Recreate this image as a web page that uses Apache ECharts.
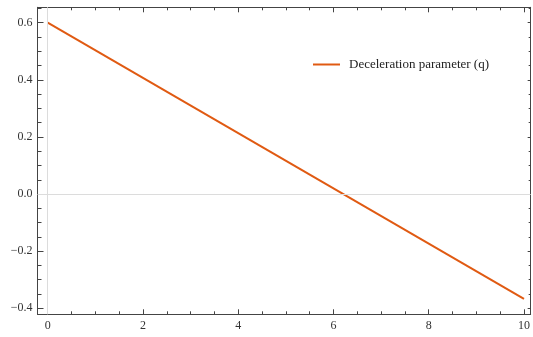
<!DOCTYPE html>
<html>
<head>
<meta charset="utf-8">
<script src="https://cdn.jsdelivr.net/npm/echarts@6/dist/echarts.min.js"></script>
<style>
html, body { margin: 0; padding: 0; background: #fff; }
#main { width: 533px; height: 337px; }
</style>
</head>
<body>
<div id="main"></div>
<script>
// 数据
var seriesName = 'Deceleration parameter (q)';
var tValues = [0, 10];
var qValues = [0.6, -0.367];

var xMajor = [0, 2, 4, 6, 8, 10];
var xMinor = [0.5, 1, 1.5, 2.5, 3, 3.5, 4.5, 5, 5.5, 6.5, 7, 7.5, 8.5, 9, 9.5];
var yMajor = [-0.4, -0.2, 0, 0.2, 0.4, 0.6];
var yMinor = [-0.35, -0.3, -0.25, -0.15, -0.1, -0.05, 0.05, 0.1, 0.15, 0.25, 0.3, 0.35, 0.45, 0.5, 0.55, 0.65];

var xMin = -0.214, xMax = 10.14;
var yMin = -0.421, yMax = 0.654;

var frameColor = '#444';
var labelFont = 'Liberation Serif';

function fmtY(v) {
	var s = Math.abs(v).toFixed(1);
	return v < -1e-9 ? '\u2212' + s : s;
}

// 一个轴的模板
function axis(dim, pos, ticks, len, showLabel, lineShow) {
	var a = {
		type: 'value',
		position: pos,
		min: dim === 'x' ? xMin : yMin,
		max: dim === 'x' ? xMax : yMax,
		axisLine: { show: lineShow, onZero: false, lineStyle: { color: frameColor, width: 1 } },
		axisTick: {
			show: true,
			inside: true,
			length: len,
			customValues: ticks,
			lineStyle: { color: frameColor, width: 1 }
		},
		axisLabel: { show: false },
		splitLine: { show: false }
	};
	if (showLabel) {
		a.axisLabel = {
			show: true,
			customValues: ticks,
			color: '#333',
			fontFamily: labelFont,
			fontSize: 12,
			margin: dim === 'x' ? 6 : 5,
			formatter: dim === 'x' ? function(v) { return String(Math.round(v)); } : fmtY
		};
	}
	return a;
}

var chartDom = document.getElementById('main');
var myChart = echarts.init(chartDom);

var option = {
	animation: false,
	grid: { left: 37.5, right: 1.5, top: 7.3, bottom: 22.7, containLabel: false },
	legend: {
		data: [seriesName],
		left: 313,
		top: 58,
		padding: 0,
		icon: 'rect',
		itemWidth: 27,
		itemHeight: 2,
		textStyle: {
			fontFamily: labelFont,
			fontSize: 13,
			color: '#222',
			padding: [0, 0, 0, 4]
		}
	},
	xAxis: [
		axis('x', 'bottom', xMajor, 5, true, true),
		axis('x', 'bottom', xMinor, 3, false, false),
		axis('x', 'top', xMajor, 5, false, true),
		axis('x', 'top', xMinor, 3, false, false)
	],
	yAxis: [
		axis('y', 'left', yMajor, 6, true, true),
		axis('y', 'left', yMinor, 4, false, false),
		axis('y', 'right', yMajor, 3, false, true),
		axis('y', 'right', yMinor, 2, false, false)
	],
	series: [
		{
			// 零线
			type: 'line',
			data: [],
			z: 1,
			silent: true,
			markLine: {
				silent: true,
				symbol: 'none',
				label: { show: false },
				lineStyle: { color: '#dcdcdc', width: 1, type: 'solid' },
				data: [{ xAxis: 0 }, { yAxis: 0 }]
			}
		},
		{
			name: seriesName,
			type: 'line',
			z: 3,
			data: tValues.map(function(t, i) { return [t, qValues[i]]; }),
			showSymbol: false,
			color: '#e05a12',
			lineStyle: { color: '#e05a12', width: 2 }
		}
	]
};

myChart.setOption(option);
</script>
</body>
</html>
